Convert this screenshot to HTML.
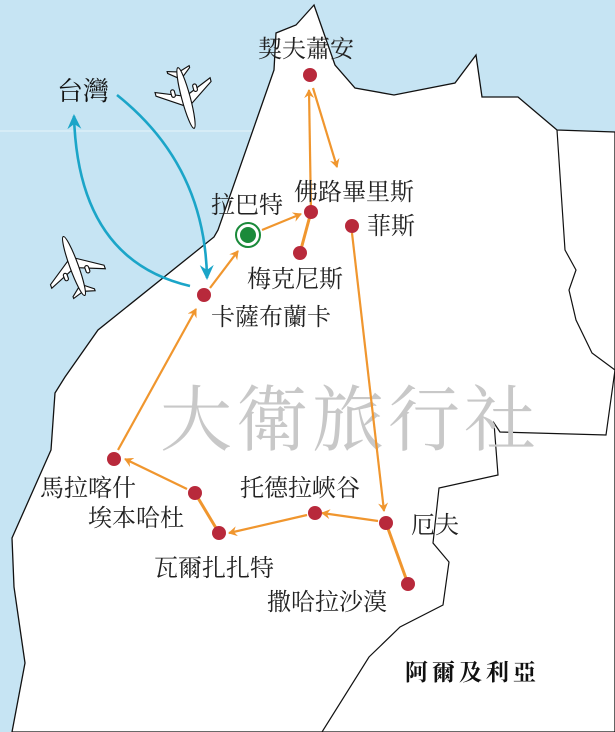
<!DOCTYPE html>
<html><head><meta charset="utf-8">
<style>
html,body{margin:0;padding:0;background:#fff;}
svg{display:block;}
text{font-family:"Liberation Serif","Noto Serif CJK SC","Noto Sans CJK TC",serif;}
.lb{font-size:24px;fill:#222;}
</style></head><body>
<svg width="615" height="732" viewBox="0 0 615 732" xmlns="http://www.w3.org/2000/svg">
<defs>
<marker id="ao" markerWidth="10" markerHeight="10" refX="8" refY="5" orient="auto" markerUnits="userSpaceOnUse">
<path d="M0,0 L9,5 L0,10 L3,5 Z" fill="#f0962e"/></marker>
<marker id="ab" markerWidth="16" markerHeight="16" refX="13" refY="8" orient="auto" markerUnits="userSpaceOnUse">
<path d="M0,1 L15,8 L0,15 L5,8 Z" fill="#1ba5c8"/></marker>
<g id="plane" fill="#fff" stroke="#111" stroke-width="1.2">
<path d="M-3,-8 L-30,10 L-30,14 L-3,3 Z M3,-8 L30,10 L30,14 L3,3 Z"/>
<path d="M-2,22 L-12,30 L-12,32 L-2,29 Z M2,22 L12,30 L12,32 L2,29 Z"/>
<rect x="-14" y="4" width="4" height="8" rx="2"/>
<rect x="10" y="4" width="4" height="8" rx="2"/>
<ellipse cx="0" cy="0" rx="4.5" ry="33"/>
</g>
</defs>
<rect width="615" height="732" fill="#c6e4f3"/>
<line x1="0" y1="131" x2="300" y2="131" stroke="#e6f3fa" stroke-width="1"/>
<path d="M314,5 L296,25 L276,33 L274,70 L218,230 L214,237 L98,330 L65,377 L55,393 L51,450 L12,538 L14,587 L25,663 L12,732 L615,732 L615,132 L557,130 L518,97 L482,97 L476,55 L455,83 L394,95 L355,88 L335,65 Z" fill="#fff" stroke="#111" stroke-width="1.3"/>
<path d="M557,130 L565,250 L576,270 L569,290 L576,320 L592,353 L615,370" fill="none" stroke="#111" stroke-width="1.2"/>
<path d="M615,370 L606,435 L500,432 L494,423 L498,475 L439,488 L433,543 L449,562 L443,605 L400,627 L369,657 L322,732" fill="none" stroke="#111" stroke-width="1.2"/>

<text x="350" y="445" font-size="72" fill="#c8c8c8" text-anchor="middle" letter-spacing="4">大衛旅行社</text>

<g stroke="#f0962e" stroke-width="2.2" fill="none">
<line x1="210" y1="288" x2="238" y2="251" marker-end="url(#ao)"/>
<line x1="262" y1="230" x2="301" y2="214" marker-end="url(#ao)"/>
<line x1="311" y1="212" x2="309" y2="90" marker-end="url(#ao)"/>
<line x1="313" y1="88" x2="337" y2="167" marker-end="url(#ao)"/>
<line x1="352" y1="233" x2="384" y2="511" marker-end="url(#ao)"/>
<line x1="378" y1="521" x2="322" y2="513" marker-end="url(#ao)"/>
<line x1="307" y1="515" x2="229" y2="533" marker-end="url(#ao)"/>
<line x1="187" y1="489" x2="125" y2="459" marker-end="url(#ao)"/>
<line x1="118" y1="450" x2="196" y2="309" marker-end="url(#ao)"/>
<line x1="311" y1="212" x2="300" y2="253" stroke-width="3"/>
<line x1="386" y1="523" x2="408" y2="584" stroke-width="3"/>
<line x1="195" y1="493" x2="219" y2="533" stroke-width="3"/>
</g>

<g fill="#b8293b">
<circle cx="310" cy="75" r="7"/>
<circle cx="311" cy="212" r="7"/>
<circle cx="352" cy="226" r="7"/>
<circle cx="300" cy="253" r="7"/>
<circle cx="204" cy="295" r="7"/>
<circle cx="114" cy="459" r="7"/>
<circle cx="195" cy="493" r="7"/>
<circle cx="219" cy="533" r="7"/>
<circle cx="315" cy="513" r="7"/>
<circle cx="386" cy="523" r="7"/>
<circle cx="408" cy="584" r="7"/>
</g>
<circle cx="248" cy="235" r="12" fill="#fff" stroke="#1a8a3a" stroke-width="2"/>
<circle cx="248" cy="235" r="8" fill="#1a8a3a"/>

<g stroke="#1ba5c8" stroke-width="2.6" fill="none">
<path d="M117,95 Q205,165 207,278" marker-end="url(#ab)"/>
<path d="M190,286 Q78,260 74,116" marker-end="url(#ab)"/>
</g>

<use href="#plane" transform="translate(186,98) rotate(165) scale(0.95)"/>
<use href="#plane" transform="translate(74,266) rotate(-20) scale(0.95)"/>

<g class="lb">
<text x="258" y="57">契夫蕭安</text>
<text x="294" y="200">佛路畢里斯</text>
<text x="211" y="213">拉巴特</text>
<text x="367" y="234">菲斯</text>
<text x="247" y="287">梅克尼斯</text>
<text x="211" y="325">卡薩布蘭卡</text>
<text x="40" y="496">馬拉喀什</text>
<text x="88" y="526">埃本哈杜</text>
<text x="240" y="496">托德拉峽谷</text>
<text x="411" y="533">厄夫</text>
<text x="154" y="576">瓦爾扎扎特</text>
<text x="267" y="610">撒哈拉沙漠</text>
</g>
<text x="57" y="100" font-size="26" fill="#111">台灣</text>
<text x="405" y="680" font-size="23" font-weight="bold" fill="#111" letter-spacing="4">阿爾及利亞</text>
</svg>
</body></html>
